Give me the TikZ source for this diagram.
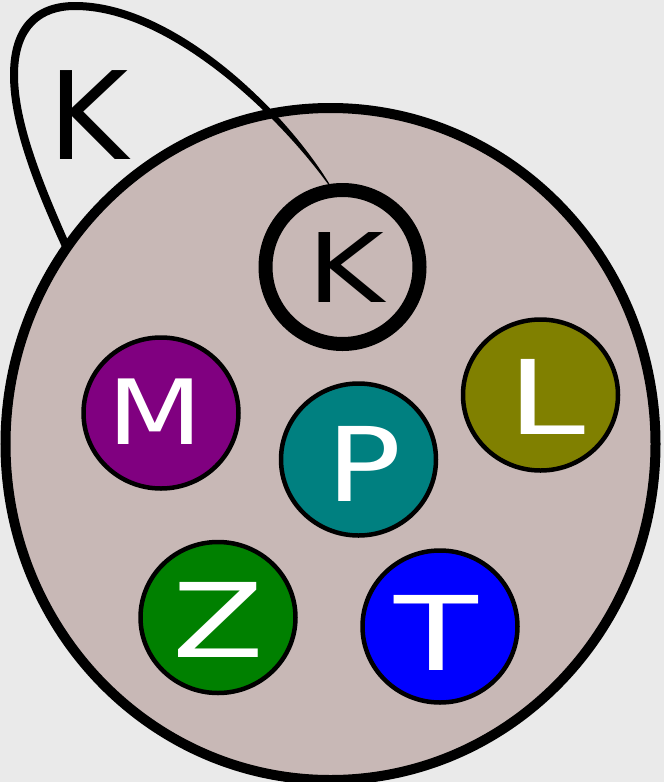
\documentclass[tikz,border=0pt]{standalone}
\usepackage{fontspec}
\setmainfont{DejaVu Sans}
\usepackage{graphicx}

\definecolor{bggray}{RGB}{234,234,234}
\definecolor{cellfill}{RGB}{200,184,182}
\definecolor{mpurple}{RGB}{128,0,128}
\definecolor{pteal}{RGB}{0,128,128}
\definecolor{lolive}{RGB}{128,128,0}
\definecolor{zgreen}{RGB}{0,128,0}
\definecolor{tblue}{RGB}{0,0,255}

\newcommand{\widel}[2]{\scalebox{#1}[1]{#2}}

\tikzset{
  ball/.style={draw=black, line width=4.5pt},
  letter/.style={text=white, inner sep=0pt, font=\fontsize{103}{103}\selectfont},
}

\begin{document}
\begin{tikzpicture}[x=1pt, y=-1pt]
  \useasboundingbox (0,0) rectangle (664,782);
  \fill[bggray] (0,0) rectangle (664,782);
  % the cell
  \filldraw[fill=cellfill, line width=10pt] (330.5,444) ellipse (325 and 336);
  % tapering loop out to the big K
  \fill[black] (62,247) .. controls (36,190) and (10,126) .. (10,75)
    .. controls (10,22) and (38,2) .. (75,2)
    .. controls (172,2) and (283,107) .. (330.5,185.7)
    -- (329.6,186.3) .. controls (277,113) and (168,10) .. (75,10)
    .. controls (42,10) and (18,28) .. (18,75)
    .. controls (18,124) and (44,186) .. (70,245) -- cycle;
  \node[inner sep=0pt, font=\fontsize{122}{122}\selectfont] (bigk) at (89,115) {K};
  % ring K
  \draw[line width=14pt] (342.5,267) circle (77);
  \node[inner sep=0pt, font=\fontsize{96}{96}\selectfont] (ringk) at (345.5,268) {\widel{1.22}{K}};
  % coloured balls
  \draw[ball, fill=mpurple] (161,413) ellipse (77.5 and 75.5);
  \node[letter, font=\fontsize{90}{90}\selectfont] (M) at (155,412) {\widel{1.23}{M}};
  \draw[ball, fill=pteal] (358.5,459.5) ellipse (77.5 and 76);
  \node[letter] (P) at (364,464) {\widel{1.21}{P}};
  \draw[ball, fill=lolive] (540.5,395) ellipse (77.5 and 75.5);
  \node[letter] (L) at (547,397) {\widel{1.36}{L}};
  \draw[ball, fill=zgreen] (218,617.5) ellipse (77.5 and 75.5);
  \node[letter] (Z) at (218,620) {\widel{1.3}{Z}};
  \draw[ball, fill=tblue] (440,626.5) ellipse (77.5 and 76);
  \node[letter] (T) at (436,633) {\widel{1.33}{T}};
\end{tikzpicture}
\end{document}
